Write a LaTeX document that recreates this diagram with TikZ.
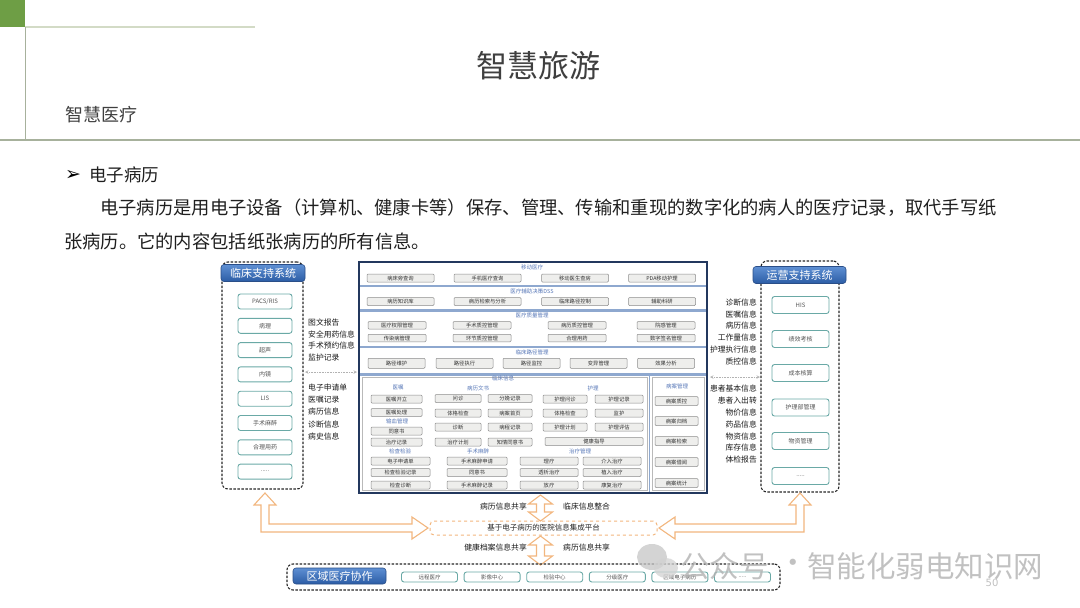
\documentclass[tikz,border=0pt]{standalone}
\usepackage{fontspec}
\newfontfamily\cjk{Noto Sans CJK SC}
\newfontfamily\djv{DejaVu Sans}
\usetikzlibrary{calc}
\newcommand\fivedots{.....}
\definecolor{grn}{HTML}{6E9E45}
\definecolor{lineA}{HTML}{D3DBC6}
\definecolor{lineB}{HTML}{A7B19C}
\definecolor{ttl}{HTML}{3F3F3F}
\definecolor{boxteal}{HTML}{6AA9A6}
\definecolor{txtgray}{HTML}{555555}
\definecolor{hdrtop}{HTML}{5E8FD3}
\definecolor{hdrbot}{HTML}{2B5CA5}
\definecolor{hdrborder}{HTML}{2A4E88}
\definecolor{navy}{HTML}{23385E}
\definecolor{secbar}{HTML}{8EA8CF}
\definecolor{cboxdraw}{HTML}{8C8C8C}
\definecolor{cboxfill}{HTML}{EEEEEC}
\definecolor{sechblue}{HTML}{5878B8}
\definecolor{arrorange}{HTML}{F2B67E}
\begin{document}
\begin{tikzpicture}[x=1pt,y=-1pt,
  fs/.style={font=\cjk\fontsize{#1}{#1}\selectfont},
  lbox/.style={draw=boxteal, line width=0.9pt, rounded corners=2.5pt, fill=white, minimum width=54pt, minimum height=15pt, inner sep=0pt, fs=6, text=txtgray},
  rbox/.style={lbox, minimum width=57pt, minimum height=17pt},
  bbox/.style={lbox, minimum width=56pt, minimum height=10pt, fs=5.5},
  hdr/.style={draw=hdrborder, line width=0.6pt, rounded corners=3pt, top color=hdrtop, bottom color=hdrbot, text=white, inner sep=0pt, fs=11},
  cbox/.style={draw=cboxdraw, line width=0.5pt, fill=cboxfill, rounded corners=1pt, minimum height=8pt, inner sep=0pt, fs=5.3, text=black!80},
  sech/.style={text=sechblue, fs=5.5, inner sep=0pt},
  lab/.style={fs=7.8, text=black!90, inner sep=0pt},
  dpanel/.style={draw=black!85, line width=1.1pt, dash pattern=on 2.5pt off 1.5pt, rounded corners=6pt, inner sep=0pt},
  harrow/.style={draw=arrorange, line width=1.1pt, fill=white, line join=miter},
  infoarr/.style={draw=gray!60, densely dotted, line width=0.6pt, <->, >=stealth},
  secline/.style={draw=secbar, line width=2.4pt}
]
\useasboundingbox (0,0) rectangle (1080,608);
% ---------- page header ----------
\fill[grn] (0,0) rectangle (25,27);
\draw[lineA, line width=1.5pt] (25,27) -- (255,27);
\draw[lineB, line width=0.8pt] (25,27) -- (25,140);
\draw[lineB, line width=1.5pt] (0,140) -- (1080,140);
\node[fs=31, text=ttl] (title) at (538,66) {智慧旅游};
\node[fs=18, anchor=west, inner sep=0pt, text=ttl] (sub) at (65,115) {智慧医疗};
\node[font=\djv\fontsize{19}{19}\selectfont, text=black, inner sep=0pt] (bul) at (73,175) {➢};
\node[fs=17.5, anchor=west, inner sep=0pt, text=black!88] (h1) at (89,175) {电子病历};
\node[fs=18.3, anchor=west, inner sep=0pt, text=black!88] (p1) at (100,208) {电子病历是用电子设备（计算机、健康卡等）保存、管理、传输和重现的数字化的病人的医疗记录，取代手写纸};
\node[fs=18.3, anchor=west, inner sep=0pt, text=black!88] (p2) at (64,241) {张病历。它的内容包括纸张病历的所有信息。};
% ---------- left panel ----------
\node[dpanel, minimum width=81pt, minimum height=227pt] (lpanel) at (262.5,375.5) {};
\node[hdr, minimum width=84pt, minimum height=17pt] (lhdr) at (263,273) {临床支持系统};
\foreach \t [count=\i] in {PACS/RIS,病理,超声,内镜,LIS,手术麻醉,合理用药,\fivedots}
  \node[lbox] (l\i) at (265,{301.5+24.3*(\i-1)}) {\t};
\foreach \t/\y [count=\i] in {图文报告/323,安全用药信息/334.5,手术预约信息/346,监护记录/357.5,电子申请单/388,医嘱记录/400,病历信息/412,诊断信息/424.5,病史信息/437}
  \node[lab, anchor=west] (ll\i) at (308,\y) {\t};
\coordinate (la1) at (305,372);
\coordinate (la2) at (357,372);
\draw[infoarr] (la1) -- (la2);
% ---------- right panel ----------
\node[dpanel, minimum width=78pt, minimum height=231pt] (rpanel) at (800,376.5) {};
\node[hdr, minimum width=93pt, minimum height=17pt] (rhdr) at (799.5,275) {运营支持系统};
\foreach \t/\y [count=\i] in {HIS/305,绩效考核/339,成本核算/373,护理部管理/407.5,物资管理/441,\fivedots/476}
  \node[rbox] (r\i) at (800.5,\y) {\t};
\foreach \t/\y [count=\i] in {诊断信息/303,医嘱信息/314.5,病历信息/326,工作量信息/338,护理执行信息/350,质控信息/361.7,患者基本信息/389,患者入出转/401,物价信息/413,药品信息/425,物资信息/436.7,库存信息/448,体检报告/460}
  \node[lab, anchor=east] (rl\i) at (757,\y) {\t};
\coordinate (ra1) at (710,377);
\coordinate (ra2) at (760,377);
\draw[infoarr] (ra1) -- (ra2);
% ---------- central EMR block ----------
\node[draw=navy, line width=1.6pt, fill=white, minimum width=348pt, minimum height=231pt, inner sep=0pt] (emr) at (533,377.5) {};
\foreach \y in {286,310.3,346.7,374.3} \draw[secline] (360,\y) -- (706,\y);
\draw[gray!55, line width=0.6pt] (362,377) rectangle (647,490);
\draw[secbar, line width=1.4pt] (649.5,375) -- (649.5,492);
\draw[gray!55, line width=0.6pt] (652,377) rectangle (704,490);
% section 1
\node[sech] (s1) at (532,267) {移动医疗};
\foreach \t/\x [count=\i] in {病床旁查询/400.5,手机医疗查询/487.5,移动医生查房/575,PDA移动护理/662}
  \node[cbox, minimum width=67pt] (a\i) at (\x,278) {\t};
% section 2
\node[sech] (s2) at (532,291) {医疗辅助决策DSS};
\foreach \t/\x [count=\i] in {病历知识库/400.5,病历检索与分析/487.5,临床路径控制/575,辅助科研/662}
  \node[cbox, minimum width=67pt] (b\i) at (\x,301.5) {\t};
% section 3
\node[sech] (s3) at (532,315) {医疗质量管理};
\foreach \t/\x [count=\i] in {医疗权限管理/397,手术质控管理/482,病历质控管理/577,院感管理/666}
  \node[cbox, minimum width=58pt, minimum height=7.5pt] (c\i) at (\x,325.3) {\t};
\foreach \t/\x [count=\i] in {传染病管理/397,环节质控管理/482,合理用药/577,数字签名管理/666}
  \node[cbox, minimum width=58pt, minimum height=7.5pt] (d\i) at (\x,338) {\t};
% section 4
\node[sech] (s4) at (532,352) {临床路径管理};
\foreach \t/\x [count=\i] in {路径维护/396.5,路径执行/464.5,路径监控/531.5,变异管理/598.5,效果分析/666}
  \node[cbox, minimum width=57pt, minimum height=10pt] (e\i) at (\x,363.3) {\t};
% section 5 clinical info
\node[sech] (s5) at (503,378.5) {临床信息};
\node[sech] (s5a) at (398,388) {医嘱};
\node[sech] (s5b) at (478,388) {病历文书};
\node[sech] (s5c) at (593,388) {护理};
\node[sech] (s5d) at (397,421) {输血管理};
\node[sech] (s5e) at (400,451) {检查检验};
\node[sech] (s5f) at (478,451) {手术麻醉};
\node[sech] (s5g) at (580,451) {治疗管理};
\foreach \t/\y [count=\i] in {医嘱开立/399,医嘱处理/412.5,同意书/431,治疗记录/442}
  \node[cbox, minimum width=51pt] (f\i) at (396.5,\y) {\t};
\foreach \t/\y [count=\i] in {问诊/398.5,体格检查/413,诊断/427,治疗计划/442}
  \node[cbox, minimum width=46pt] (g\i) at (458,\y) {\t};
\foreach \t/\y [count=\i] in {分娩记录/398.5,病案首页/413,病程记录/427,知情同意书/442}
  \node[cbox, minimum width=44pt] (h\i) at (510,\y) {\t};
\foreach \t/\y [count=\i] in {护理问诊/399,体格检查/413,护理计划/427}
  \node[cbox, minimum width=44pt] (k\i) at (565,\y) {\t};
\foreach \t/\y [count=\i] in {护理记录/399,监护/413,护理评估/427}
  \node[cbox, minimum width=48pt] (m\i) at (619,\y) {\t};
\node[cbox, minimum width=98pt] (k4) at (594,441.5) {健康指导};
\foreach \t/\y [count=\i] in {电子申请单/461,检查检验记录/472.5,检查诊断/485}
  \node[cbox, minimum width=59pt] (n\i) at (400.5,\y) {\t};
\foreach \t/\y [count=\i] in {手术麻醉申请/461,同意书/472.5,手术麻醉记录/485}
  \node[cbox, minimum width=60pt] (o\i) at (477,\y) {\t};
\foreach \t/\y [count=\i] in {理疗/461,透析治疗/472.5,放疗/485}
  \node[cbox, minimum width=58pt] (q\i) at (549,\y) {\t};
\foreach \t/\y [count=\i] in {介入治疗/461,植入治疗/472.5,康复治疗/485}
  \node[cbox, minimum width=58pt] (u\i) at (612,\y) {\t};
% section 6 record management
\node[sech] (s6) at (677,386) {病案管理};
\foreach \t/\y [count=\i] in {病案质控/401,病案归档/421,病案检索/441,病案借阅/462,病案统计/483}
  \node[cbox, minimum width=43pt, minimum height=9pt] (v\i) at (676.5,\y) {\t};
% ---------- integration platform ----------
\node[draw=arrorange, line width=1pt, dashed, rounded corners=4pt, minimum width=227pt, minimum height=14pt, inner sep=0pt, fs=7.5, text=black!85] (plat) at (543.5,528) {基于电子病历的医院信息集成平台};
% hollow arrows
\draw[harrow] (265,493) -- (276,505) -- (269,505) -- (269,524) -- (412,524) -- (412,517) -- (428,528) -- (412,539) -- (412,532) -- (261,532) -- (261,505) -- (254,505) -- cycle;
\draw[harrow] (800,493) -- (811,505) -- (804,505) -- (804,532) -- (675,532) -- (675,539) -- (659,528) -- (675,517) -- (675,524) -- (796,524) -- (796,505) -- (789,505) -- cycle;
\draw[harrow] (540.5,495) -- (552.5,504) -- (544.5,504) -- (544.5,512) -- (552.5,512) -- (540.5,521) -- (528.5,512) -- (536.5,512) -- (536.5,504) -- (528.5,504) -- cycle;
\draw[harrow] (540.5,536) -- (552.5,545) -- (544.5,545) -- (544.5,556) -- (552.5,556) -- (540.5,565) -- (528.5,556) -- (536.5,556) -- (536.5,545) -- (528.5,545) -- cycle;
\node[lab, anchor=east] (bl1) at (527,507) {病历信息共享};
\node[lab, anchor=west] (bl2) at (563,507) {临床信息整合};
\node[lab, anchor=east] (bl3) at (527,548) {健康档案信息共享};
\node[lab, anchor=west] (bl4) at (563,548) {病历信息共享};
% ---------- regional panel ----------
\node[dpanel, minimum width=493pt, minimum height=26pt] (bpanel) at (533.5,577) {};
\node[hdr, minimum width=93pt, minimum height=16pt] (bhdr) at (339.5,576) {区域医疗协作};
\foreach \t [count=\i] in {远程医疗,影像中心,检验中心,分级医疗,区域电子病历,\fivedots}
  \node[bbox] (w\i) at ({429.5+62.6*(\i-1)},577) {\t};
% ---------- watermark ----------
\fill[gray!45, opacity=0.75] (652,557) ellipse (15pt and 13pt);
\fill[gray!35, opacity=0.75] (666,568) ellipse (12pt and 10pt);
\node[fs=29.5, text=gray!60, opacity=0.8, anchor=west, inner sep=0pt] (wm1) at (680,566) {公众号};
\node[fs=29.5, text=gray!60, opacity=0.8, inner sep=0pt] (wm2) at (793,566) {·};
\node[fs=29.5, text=gray!60, opacity=0.8, anchor=west, inner sep=0pt] (wm3) at (807,566) {智能化弱电知识网};
\node[font=\djv\fontsize{10}{10}\selectfont, text=gray!50, inner sep=0pt] (pg) at (992,583) {50};
\end{tikzpicture}
\end{document}
